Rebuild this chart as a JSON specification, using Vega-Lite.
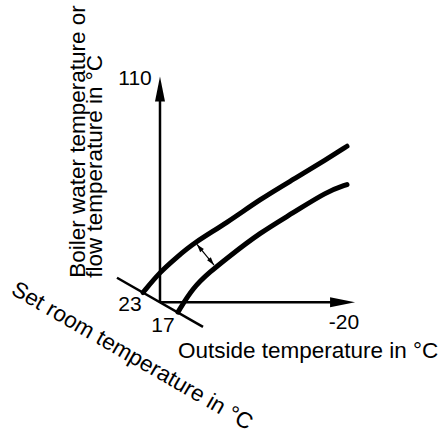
{
  "$schema": "https://vega.github.io/schema/vega-lite/v6.json",
  "width": 440,
  "height": 432,
  "autosize": {"type": "fit", "contains": "padding"},
  "padding": 0,
  "background": "white",
  "config": {"view": {"stroke": null}},
  "datasets": {
    "curves": [
      {"curve": "upper", "outside": 23.70, "flow": 23.91},
      {"curve": "upper", "outside": 20.00, "flow": 32.13},
      {"curve": "upper", "outside": 16.30, "flow": 38.00},
      {"curve": "upper", "outside": 12.83, "flow": 43.47},
      {"curve": "upper", "outside": 5.43, "flow": 51.69},
      {"curve": "upper", "outside": -1.74, "flow": 61.08},
      {"curve": "upper", "outside": -8.91, "flow": 68.90},
      {"curve": "upper", "outside": -16.30, "flow": 77.12},
      {"curve": "upper", "outside": -20.65, "flow": 82.21},
      {"curve": "lower", "outside": 16.09, "flow": 16.09},
      {"curve": "lower", "outside": 12.83, "flow": 25.87},
      {"curve": "lower", "outside": 9.13, "flow": 32.13},
      {"curve": "lower", "outside": 5.43, "flow": 37.61},
      {"curve": "lower", "outside": -1.74, "flow": 47.78},
      {"curve": "lower", "outside": -8.91, "flow": 55.60},
      {"curve": "lower", "outside": -16.30, "flow": 64.21},
      {"curve": "lower", "outside": -20.65, "flow": 66.95}
    ],
    "axisLines": [
      {"name": "flow axis", "outside": 20, "flow": 20, "outside2": 20, "flow2": 104},
      {"name": "outside axis", "outside": 20, "flow": 20, "outside2": -19.1, "flow2": 20},
      {"name": "room axis", "outside": 29.35, "flow": 29.78, "outside2": 10.65, "flow2": 10.22}
    ],
    "shift": [
      {"outside": 11.96, "flow": 43.08, "outside2": 8.26, "flow2": 34.87}
    ],
    "tips": [
      {"name": "flow tip", "outside": 20, "flow": 110},
      {"name": "outside tip", "outside": -22.4, "flow": 20}
    ],
    "numbers": [
      {"label": "110", "outside": 25.43, "flow": 106.46},
      {"label": "23", "outside": 26.52, "flow": 16.48},
      {"label": "17", "outside": 19.35, "flow": 8.26},
      {"label": "-20", "outside": -20, "flow": 9.44}
    ],
    "yTitle": [
      {"label": "Boiler water temperature or", "outside": 36.3, "flow": 29.78},
      {"label": "flow temperature in °C", "outside": 32.6, "flow": 29.78}
    ],
    "xTitle": [
      {"label": "Outside temperature in °C", "outside": 16.09, "flow": -2.30}
    ],
    "roomTitle": [
      {"label": "Set room temperature in °C", "outside": 52.6, "flow": 23.52}
    ]
  },
  "encoding": {
    "x": {"field": "outside", "type": "quantitative", "scale": {"domain": [54.78, -40.87], "nice": false, "zero": false}, "axis": null},
    "y": {"field": "flow", "type": "quantitative", "scale": {"domain": [-28.5, 140.5], "nice": false, "zero": false}, "axis": null}
  },
  "layer": [
    {
      "data": {"name": "axisLines"},
      "mark": {"type": "rule", "color": "black", "strokeWidth": 2.5},
      "encoding": {
        "x2": {"field": "outside2"},
        "y2": {"field": "flow2"}
      }
    },
    {
      "data": {"name": "tips"},
      "transform": [{"filter": "datum.name == 'flow tip'"}],
      "mark": {"type": "point", "shape": "M0,0L0.4,2L-0.4,2Z", "size": 625, "filled": true, "color": "black", "opacity": 1, "strokeWidth": 0}
    },
    {
      "data": {"name": "tips"},
      "transform": [{"filter": "datum.name == 'outside tip'"}],
      "mark": {"type": "point", "shape": "M0,0L0.4,2L-0.4,2Z", "size": 625, "angle": 90, "filled": true, "color": "black", "opacity": 1, "strokeWidth": 0}
    },
    {
      "data": {"name": "curves"},
      "mark": {"type": "line", "color": "black", "strokeWidth": 5, "strokeCap": "round", "interpolate": "basis"},
      "encoding": {"detail": {"field": "curve"}}
    },
    {
      "data": {"name": "shift"},
      "mark": {"type": "rule", "color": "black", "strokeWidth": 1.2},
      "encoding": {
        "x2": {"field": "outside2"},
        "y2": {"field": "flow2"}
      }
    },
    {
      "data": {"name": "shift"},
      "mark": {"type": "point", "shape": "M0,0L0.6,2L-0.6,2Z", "size": 64, "angle": 321, "filled": true, "color": "black", "opacity": 1, "strokeWidth": 0}
    },
    {
      "data": {"name": "shift"},
      "mark": {"type": "point", "shape": "M0,0L0.6,2L-0.6,2Z", "size": 64, "angle": 141, "filled": true, "color": "black", "opacity": 1, "strokeWidth": 0},
      "encoding": {
        "x": {"field": "outside2", "type": "quantitative"},
        "y": {"field": "flow2", "type": "quantitative"}
      }
    },
    {
      "data": {"name": "numbers"},
      "mark": {"type": "text", "font": "Liberation Sans", "fontSize": 21, "align": "center", "baseline": "alphabetic", "color": "black"},
      "encoding": {"text": {"field": "label"}}
    },
    {
      "data": {"name": "yTitle"},
      "mark": {"type": "text", "font": "Liberation Sans", "fontSize": 22.5, "align": "left", "baseline": "alphabetic", "angle": 270, "color": "black"},
      "encoding": {"text": {"field": "label"}}
    },
    {
      "data": {"name": "xTitle"},
      "mark": {"type": "text", "font": "Liberation Sans", "fontSize": 22.5, "align": "left", "baseline": "alphabetic", "color": "black"},
      "encoding": {"text": {"field": "label"}}
    },
    {
      "data": {"name": "roomTitle"},
      "mark": {"type": "text", "font": "Liberation Sans", "fontSize": 22.5, "align": "left", "baseline": "alphabetic", "angle": 30, "color": "black"},
      "encoding": {"text": {"field": "label"}}
    }
  ]
}
